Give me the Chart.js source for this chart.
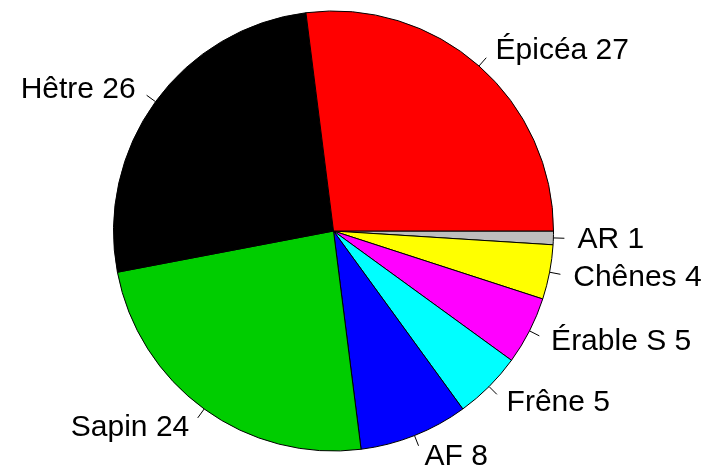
<!DOCTYPE html>
<html>
<head>
<meta charset="utf-8">
<script src="https://cdn.jsdelivr.net/npm/chart.js@4"></script>
<style>
  html, body { margin: 0; padding: 0; background: #fff; }
  canvas { display: block; }
</style>
</head>
<body>
<canvas id="pie" width="713" height="466"></canvas>
<script>
// essences, dans l'ordre du pie R (sens anti-horaire depuis 3 h)
const species = ['Épicéa', 'Hêtre', 'Sapin', 'AF', 'Frêne', 'Érable S', 'Chênes', 'AR'];
const counts = [27, 26, 24, 8, 5, 5, 4, 1];
const colors = ['#FF0000', '#000000', '#00CD00', '#0000FF', '#00FFFF', '#FF00FF', '#FFFF00', '#BEBEBE'];

// Chart.js tourne dans le sens horaire -> on inverse
const values = counts.slice().reverse();
const labels = species.slice().reverse().map((s, i) => s + ' ' + values[i]);
const bg = colors.slice().reverse();

// étiquettes façon R : trait de r à 1.05r, texte à 1.1r
const outsideLabels = {
  id: 'outsideLabels',
  afterDraw(chart) {
    const ctx = chart.ctx;
    const meta = chart.getDatasetMeta(0);
    ctx.save();
    ctx.strokeStyle = '#000';
    ctx.lineWidth = 1;
    ctx.fillStyle = '#000';
    ctx.font = '30px "Liberation Sans", Arial, sans-serif';
    ctx.textBaseline = 'middle';
    meta.data.forEach((arc, i) => {
      const p = arc.getProps(['x', 'y', 'startAngle', 'endAngle', 'outerRadius'], true);
      const mid = (p.startAngle + p.endAngle) / 2;
      const c = Math.cos(mid), s = Math.sin(mid);
      const r = p.outerRadius;
      ctx.beginPath();
      ctx.moveTo(p.x + c * r, p.y + s * r);
      ctx.lineTo(p.x + c * r * 1.05, p.y + s * r * 1.05);
      ctx.stroke();
      ctx.textAlign = c >= 0 ? 'left' : 'right';
      ctx.fillText(chart.data.labels[i], p.x + c * r * 1.1 + (c >= 0 ? 2 : -2), p.y + s * r * 1.1 + 1);
    });
    ctx.restore();
  }
};

new Chart(document.getElementById('pie').getContext('2d'), {
  type: 'pie',
  data: {
    labels: labels,
    datasets: [{
      data: values,
      backgroundColor: bg,
      borderColor: '#000',
      borderWidth: 1
    }]
  },
  options: {
    responsive: false,
    animation: false,
    rotation: 90,
    layout: { padding: { left: 113, right: 159, top: 10, bottom: 14 } },
    plugins: {
      legend: { display: false },
      tooltip: { enabled: false }
    }
  },
  plugins: [outsideLabels]
});
</script>
</body>
</html>
